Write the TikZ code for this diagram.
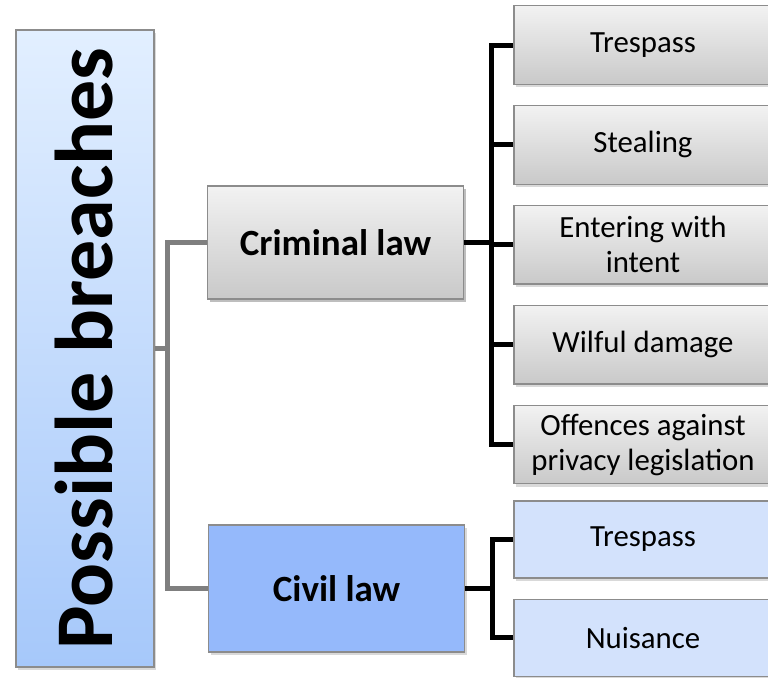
\documentclass[tikz,border=0pt]{standalone}
\usepackage{fontspec}
\setmainfont{Carlito}
\usetikzlibrary{positioning,shadows}

\definecolor{boxline}{HTML}{8C8C8C}
\definecolor{graytop}{HTML}{F2F2F2}
\definecolor{graybot}{HTML}{C9C9C9}
\definecolor{bluetop}{HTML}{E2EFFF}
\definecolor{bluebot}{HTML}{A6C8FA}
\definecolor{civilfill}{HTML}{95B9FB}
\definecolor{lightblue}{HTML}{D3E2FC}
\definecolor{linegray}{HTML}{7F7F7F}

\begin{document}
\begin{tikzpicture}[x=0.5pt, y=-0.5pt,
    box/.style={draw=boxline, line width=0.6pt, align=center, inner sep=0pt,
        drop shadow={opacity=0.3, shadow xshift=1.2pt, shadow yshift=-1.6pt}},
    graybox/.style={box, top color=graytop, bottom color=graybot},
    leaf/.style={minimum width=129pt, minimum height=39.25pt, font=\fontsize{15.4}{17.5}\selectfont},
    mid/.style={box, minimum width=128pt, font=\fontsize{18.5}{21}\selectfont\bfseries},
    grayline/.style={draw=linegray, line width=2.2pt},
    blackline/.style={draw=black, line width=2.5pt}]
    \useasboundingbox (0,0) rectangle (768,677);

    \node[box, rotate=90, top color=bluetop, bottom color=bluebot,
        minimum width=318.5pt, minimum height=69pt,
        font=\fontsize{41}{45}\selectfont\bfseries] (breaches) at (85,348.5) {\raisebox{1.5pt}{Possible breaches}};

    \node[graybox, mid, minimum height=56.5pt] (criminal) at (335.5,242.5) {Criminal law};
    \node[mid, fill=civilfill, minimum height=63.5pt] (civil) at (336.5,588.5) {Civil law};

    % criminal law branches
    \node[graybox, leaf] (trespass) at (643,45) {Trespass};
    \node[graybox, leaf, below = 10.1pt of trespass] (stealing) {Stealing};
    \node[graybox, leaf, below = 10.1pt of stealing] (entering) {Entering with\\intent};
    \node[graybox, leaf, below = 10.1pt of entering] (damage) {Wilful damage};
    \node[graybox, leaf, below = 10.1pt of damage] (privacy) {Offences against\\privacy legislation};

    % civil law branches
    \node[box, leaf, fill=lightblue, minimum height=38.5pt] (ctrespass) at (643,539.5) {Trespass};
    \node[box, leaf, fill=lightblue, minimum height=38.5pt, below = 10pt of ctrespass] (nuisance) {Nuisance};

    \path[grayline] (breaches.south) -- ++(13,0) coordinate (bj);
    \path[grayline] (bj) |- (criminal.west);
    \path[grayline] (bj) |- (civil.west);

    \path[blackline] (criminal.east) -- ++(27,0) coordinate (cj);
    \foreach \n in {trespass,stealing,entering,damage,privacy}
        \path[blackline] (cj) |- (\n.west);

    \path[blackline] (civil.east) -- ++(27,0) coordinate (vj);
    \foreach \n in {ctrespass,nuisance}
        \path[blackline] (vj) |- (\n.west);
\end{tikzpicture}
\end{document}
